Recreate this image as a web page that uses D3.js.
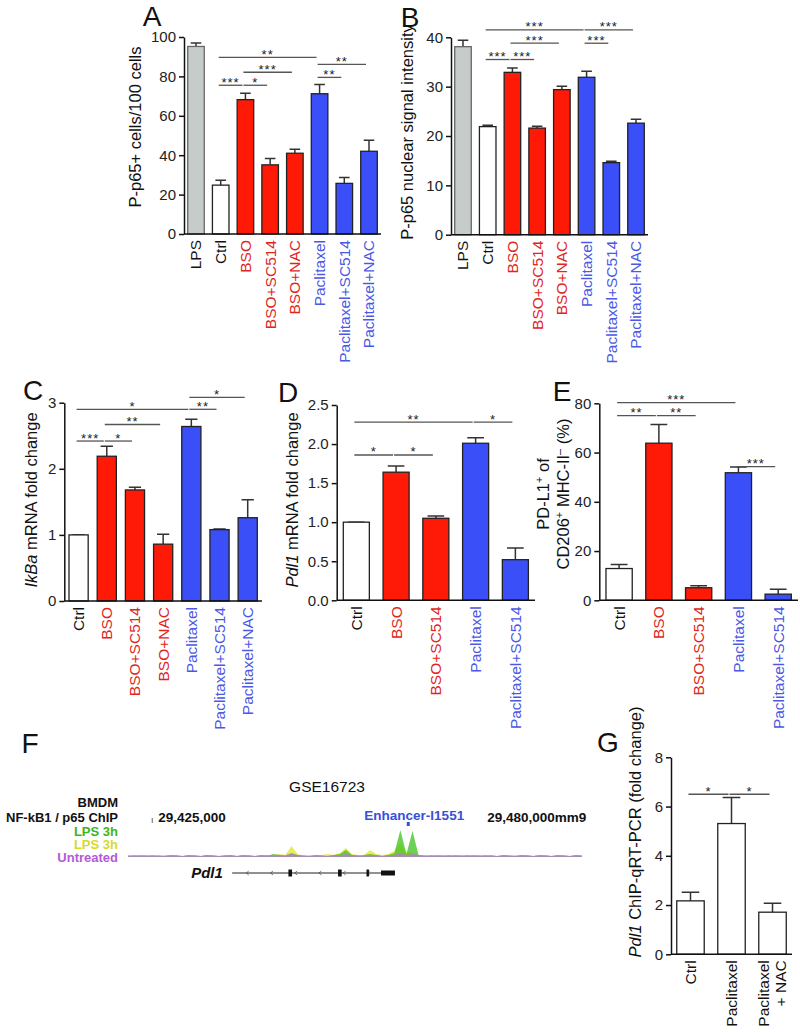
<!DOCTYPE html>
<html lang="en">
<head>
<meta charset="UTF-8">
<title>p65 / Pdl1 figure</title>
<script src="https://d3js.org/d3.v7.min.js"></script>
<style>
  body { margin: 0; background: #fff; }
  text { font-family: Arial, "Liberation Sans", sans-serif; }
</style>
</head>
<body>
<script>
// ---------- data ----------
var catsAB = ["LPS", "Ctrl", "BSO", "BSO+SC514", "BSO+NAC", "Paclitaxel", "Paclitaxel+SC514", "Paclitaxel+NAC"];
var valsA = [95.2, 24.8, 68.2, 35.1, 41.0, 71.2, 25.7, 42.0];
var semA  = [1.7, 2.5, 3.3, 3.2, 2.0, 4.7, 3.0, 5.6];
var ticksA = [0, 20, 40, 60, 80, 100];
// [from, to, height, stars]
var sigA = [["Ctrl", "Paclitaxel", 89.7, "**"], ["BSO", "BSO+NAC", 82.1, "***"], ["Ctrl", "BSO", 75.5, "***"],
            ["BSO", "BSO+SC514", 75.5, "*"], ["Paclitaxel", "Paclitaxel+NAC", 86.1, "**"], ["Paclitaxel", "Paclitaxel+SC514", 79.5, "**"]];

var valsB = [38.1, 21.9, 32.9, 21.6, 29.4, 31.9, 14.6, 22.6];
var semB  = [1.3, 0.3, 0.9, 0.4, 0.7, 1.2, 0.3, 0.8];
var ticksB = [0, 10, 20, 30, 40];
var sigB = [["Ctrl", "Paclitaxel", 41.5, "***"], ["BSO", "BSO+NAC", 38.8, "***"], ["Ctrl", "BSO", 35.5, "***"],
            ["BSO", "BSO+SC514", 35.5, "***"], ["Paclitaxel", "Paclitaxel+NAC", 41.5, "***"], ["Paclitaxel", "Paclitaxel+SC514", 38.8, "***"]];

var catsC = ["Ctrl", "BSO", "BSO+SC514", "BSO+NAC", "Paclitaxel", "Paclitaxel+SC514", "Paclitaxel+NAC"];
var valsC = [1.0, 2.19, 1.68, 0.86, 2.64, 1.08, 1.26];
var semC  = [0, 0.15, 0.04, 0.15, 0.11, 0.01, 0.27];
var ticksC = [0, 1, 2, 3];
var sigC = [["Ctrl", "Paclitaxel", 2.90, "*"], ["BSO", "BSO+NAC", 2.67, "**"], ["Ctrl", "BSO", 2.42, "***"],
            ["BSO", "BSO+SC514", 2.42, "*"], ["Paclitaxel", "Paclitaxel+SC514", 2.90, "**"], ["Paclitaxel", "Paclitaxel+NAC", 3.08, "*"]];

var catsDE = ["Ctrl", "BSO", "BSO+SC514", "Paclitaxel", "Paclitaxel+SC514"];
var valsD = [1.0, 1.64, 1.05, 2.01, 0.52];
var semD  = [0, 0.08, 0.03, 0.07, 0.15];
var ticksD = [0, 0.5, 1.0, 1.5, 2.0, 2.5];
var sigD = [["Ctrl", "Paclitaxel", 2.28, "**"], ["Paclitaxel", "Paclitaxel+SC514", 2.28, "*"],
            ["Ctrl", "BSO", 1.86, "*"], ["BSO", "BSO+SC514", 1.86, "*"]];

var valsE = [12.9, 63.8, 5.1, 51.8, 2.5];
var semE  = [1.6, 7.6, 0.8, 2.3, 2.0];
var ticksE = [0, 20, 40, 60, 80];
var sigE = [["Ctrl", "Paclitaxel", 80.3, "***"], ["Ctrl", "BSO", 75, "**"], ["BSO", "BSO+SC514", 75, "**"],
            ["Paclitaxel", "Paclitaxel+SC514", 54.3, "***"]];

var catsG = ["Ctrl", "Paclitaxel", "Paclitaxel\n+ NAC"];
var valsG = [2.17, 5.31, 1.71];
var semG  = [0.35, 1.06, 0.36];
var ticksG = [0, 2, 4, 6, 8];
var sigG = [["Ctrl", "Paclitaxel", 6.5, "*"], ["Paclitaxel", "Paclitaxel\n+ NAC", 6.5, "*"]];

// panel F: genome browser signal, 1 kb bins from 29,420,500
var trackStart = 29420500, binSize = 1000;
var greenTrack = [1,2,1,1,2,1,1,2,1,1, 2,1,1,2,1,1,1,2,1,2, 1,1,2,1,3,2,1,4,2,1, 1,2,1,1,2,3,7,2,1,2,
                  3,2,1,2,4,27,3,26,2,1, 2,1,1,2,1,1,2,1,1,2, 1,1,2,1,1,2,1,1,2,1, 1,2,1,1,2,1];
var yellowTrack = [1,1,2,1,1,1,2,1,2,1, 1,2,1,1,2,1,2,1,1,1, 2,1,1,2,2,3,2,11,3,1, 2,1,2,3,2,4,9,3,2,2,
                   7,3,2,3,6,14,5,4,2,1, 1,2,1,1,2,1,1,2,1,1, 2,1,1,1,2,1,2,1,1,2, 1,1,2,1,1,1];
var purpleTrack = [2,1,2,2,1,2,1,2,2,1, 2,2,1,2,2,1,2,2,1,2, 2,1,2,2,1,2,2,3,2,2, 1,2,2,1,2,2,3,2,2,1,
                   2,2,1,2,2,4,2,3,2,2, 1,2,2,1,2,2,1,2,2,1, 2,1,2,2,1,2,2,1,2,2, 1,2,2,1,2,2];
var geneStart = 29438200, geneEnd = 29465100;
var geneExons = [[29447500, 29448100, 1], [29455700, 29456300, 1], [29460400, 29460800, 1], [29462800, 29465100, 2]];
var enhancerPos = 29467300;

// ---------- drawing ----------
var RED = "#fe1a06", BLUE = "#3a4ff8", GRAY = "#c5ccc9";
var RED_T = "#e0251c", BLUE_T = "#4a58e6";

var svg = d3.select("body").append("svg").attr("width", 800).attr("height", 1032);

function fillFor(c, plain) {
  if (plain || c == "Ctrl") return "#fff";
  if (c == "LPS") return GRAY;
  return c.indexOf("BSO") == 0 ? RED : BLUE;
}
function textFor(c, plain) {
  if (plain) return "#111";
  if (c.indexOf("BSO") == 0) return RED_T;
  if (c.indexOf("Paclitaxel") == 0) return BLUE_T;
  return "#111";
}

function barPanel(p) {
  var g = svg.append("g");
  var x = d3.scaleBand().domain(p.cats).range([p.left, p.right]).paddingInner(p.pi).paddingOuter(p.po);
  var y = d3.scaleLinear().domain([p.ticks[0], p.ticks[p.ticks.length - 1]]).range([p.bottom, p.top]);
  var bw = x.bandwidth();

  // error whiskers (upper only)
  g.selectAll(".err").data(p.cats).join("path")
    .attr("d", function (d, i) {
      var cx = x(d) + bw / 2, t = y(p.vals[i] + p.sem[i]), c = bw * 0.32;
      return "M" + cx + "," + y(p.vals[i]) + "V" + t + "M" + (cx - c) + "," + t + "H" + (cx + c);
    })
    .attr("stroke", "#333").attr("stroke-width", 1.5).attr("fill", "none");

  g.selectAll(".bar").data(p.cats).join("rect")
    .attr("x", function (d) { return x(d); })
    .attr("y", function (d, i) { return y(p.vals[i]); })
    .attr("width", bw)
    .attr("height", function (d, i) { return y(0) - y(p.vals[i]); })
    .attr("fill", function (d) { return fillFor(d, p.plain); })
    .attr("stroke", function (d) { return d == "LPS" ? "#666" : "#222"; })
    .attr("stroke-width", 1.3);

  var ax = g.append("g").attr("transform", "translate(" + p.left + ",0)")
    .call(d3.axisLeft(y).tickValues(p.ticks).tickSize(5).tickSizeOuter(0).tickPadding(3)
      .tickFormat(p.fmt || d3.format("d")));
  ax.select(".domain").attr("stroke", "#111").attr("stroke-width", 1.5);
  ax.selectAll(".tick line").attr("stroke", "#111").attr("stroke-width", 1.5);
  ax.selectAll(".tick text").attr("font-size", 15).attr("fill", "#222")
    .attr("font-family", "Arial, 'Liberation Sans', sans-serif");

  g.append("line").attr("x1", p.left).attr("x2", p.right).attr("y1", y(0)).attr("y2", y(0))
    .attr("stroke", "#111").attr("stroke-width", 1.5);

  // rotated category labels
  p.cats.forEach(function (c) {
    var lines = c.split("\n");
    lines.forEach(function (ln, k) {
      var cx = x(c) + bw / 2 + (lines.length > 1 ? (k - 0.5) * 17 : 0);
      g.append("text")
        .attr("transform", "translate(" + cx + "," + (y(0) + 6) + ") rotate(-90)")
        .attr("text-anchor", "end").attr("dy", "0.35em")
        .attr("font-size", 15.5).attr("fill", textFor(c, p.plain)).text(ln);
    });
  });

  // significance brackets
  p.sig.forEach(function (s) {
    var x1 = x(s[0]) + bw / 2 - 2, x2 = x(s[1]) + bw / 2 - 3, ly = y(s[2]);
    g.append("line").attr("x1", x1).attr("x2", x2).attr("y1", ly).attr("y2", ly)
      .attr("stroke", "#555").attr("stroke-width", 1.3);
    g.append("text").attr("x", (x1 + x2) / 2).attr("y", ly + 1.5).attr("text-anchor", "middle")
      .attr("font-size", 13).attr("letter-spacing", 1).attr("fill", "#222").text(s[3]);
  });

  // y label (lines of [text, style] pieces)
  p.ylab.forEach(function (line, k) {
    var t = g.append("text")
      .attr("transform", "translate(" + p.ylabX[k] + "," + p.ylabY + ") rotate(-90)")
      .attr("text-anchor", "middle").attr("font-size", 16.5).attr("fill", "#111");
    line.forEach(function (piece) {
      var ts = t.append("tspan").text(piece[0]);
      if (piece[1] == "i") ts.attr("font-style", "italic");
      if (piece[1] == "sup") ts.attr("baseline-shift", "super").attr("font-size", 11);
    });
  });

  svg.append("text").attr("x", p.letter[0]).attr("y", p.letter[1]).attr("text-anchor", "middle")
    .attr("font-size", 28).attr("fill", "#111").text(p.name);
}

barPanel({ name: "A", letter: [152, 26], cats: catsAB, vals: valsA, sem: semA, ticks: ticksA, sig: sigA,
  left: 184, right: 381, top: 37, bottom: 234, pi: 0.33, po: 0.15,
  ylab: [[["P-p65+ cells/100 cells"]]], ylabX: [141], ylabY: 127 });

barPanel({ name: "B", letter: [410, 27], cats: catsAB, vals: valsB, sem: semB, ticks: ticksB, sig: sigB,
  left: 451, right: 648, top: 37.3, bottom: 234.7, pi: 0.33, po: 0.15,
  ylab: [[["P-p65 nuclear signal intensity"]]], ylabX: [413], ylabY: 132 });

barPanel({ name: "C", letter: [33, 400], cats: catsC, vals: valsC, sem: semC, ticks: ticksC, sig: sigC,
  left: 64.3, right: 262, top: 402.7, bottom: 601, pi: 0.32, po: 0.167,
  ylab: [[["IkBa", "i"], [" mRNA fold change"]]], ylabX: [37], ylabY: 500 });

barPanel({ name: "D", letter: [288, 402], cats: catsDE, vals: valsD, sem: semD, ticks: ticksD, sig: sigD,
  left: 336.7, right: 535, top: 405, bottom: 600.3, pi: 0.345, po: 0.166, fmt: d3.format(".1f"),
  ylab: [[["Pdl1", "i"], [" mRNA fold change"]]], ylabX: [298], ylabY: 500 });

barPanel({ name: "E", letter: [562, 401], cats: catsDE, vals: valsE, sem: semE, ticks: ticksE, sig: sigE,
  left: 599.3, right: 798, top: 403.3, bottom: 600.3, pi: 0.34, po: 0.168,
  ylab: [[["PD-L1"], ["+", "sup"], [" of"]], [["CD206"], ["+", "sup"], [" MHC-II"], ["\u2013", "sup"], [" (%)"]]],
  ylabX: [549, 569], ylabY: 494 });

barPanel({ name: "G", letter: [608, 752], cats: catsG, vals: valsG, sem: semG, ticks: ticksG, sig: sigG,
  left: 671, right: 792, top: 757.3, bottom: 954.3, pi: 0.33, po: 0.14, plain: true,
  ylab: [[["Pdl1", "i"], [" ChIP-qRT-PCR (fold change)"]]], ylabX: [641], ylabY: 832 });

// ---------- panel F ----------
var fg = svg.append("g");
var gx = d3.scaleLinear().domain([trackStart, trackStart + binSize * greenTrack.length]).range([125, 585]);
var hy = d3.scaleLinear().domain([0, 30]).range([857, 827]);
var fmt = d3.format(",");

fg.append("text").attr("x", 30).attr("y", 753).attr("text-anchor", "middle").attr("font-size", 28).attr("fill", "#111").text("F");
fg.append("text").attr("x", 327).attr("y", 792).attr("text-anchor", "middle").attr("font-size", 15.5).attr("fill", "#111").text("GSE16723");

var trackLabels = [["BMDM", "#111", 807], ["NF-kB1 / p65 ChIP", "#111", 822], ["LPS 3h", "#3db520", 836],
                   ["LPS 3h", "#d4dc2a", 849], ["Untreated", "#b35ad9", 862]];
trackLabels.forEach(function (t) {
  fg.append("text").attr("x", 118).attr("y", t[2]).attr("text-anchor", "end").attr("font-size", 13)
    .attr("font-weight", "bold").attr("fill", t[1]).text(t[0]);
});

fg.append("line").attr("x1", gx(29425000)).attr("x2", gx(29425000)).attr("y1", 818).attr("y2", 823).attr("stroke", "#666");
fg.append("text").attr("x", gx(29425000) + 6).attr("y", 822).attr("font-size", 13.5).attr("font-weight", "bold")
  .attr("fill", "#111").text(fmt(29425000));
fg.append("text").attr("x", gx(29480000) + 2).attr("y", 822).attr("font-size", 13.5).attr("font-weight", "bold")
  .attr("fill", "#111").text(fmt(29480000) + "mm9");
fg.append("text").attr("x", gx(enhancerPos) + 6).attr("y", 820).attr("text-anchor", "middle").attr("font-size", 13.5)
  .attr("font-weight", "bold").attr("fill", "#3a4fd8").text("Enhancer-I1551");
fg.append("rect").attr("x", gx(enhancerPos) - 1.5).attr("y", 822).attr("width", 3).attr("height", 4).attr("fill", "#3a4fd8");

function track(vals, color, op) {
  var area = d3.area()
    .x(function (d, i) { return gx(trackStart + (i + 0.5) * binSize); })
    .y0(hy(0)).y1(function (d) { return hy(d); });
  fg.append("path").datum(vals).attr("d", area).attr("fill", color).attr("fill-opacity", op);
}
track(yellowTrack, "#e3e63a", 0.8);
track(greenTrack, "#3cc21c", 0.75);
track(purpleTrack, "#c070e8", 0.7);

// gene model
fg.append("text").attr("x", 207).attr("y", 878).attr("text-anchor", "middle").attr("font-size", 15)
  .attr("font-weight", "bold").attr("font-style", "italic").attr("fill", "#111").text("Pdl1");
fg.append("line").attr("x1", gx(geneStart)).attr("x2", gx(geneEnd)).attr("y1", 873).attr("y2", 873)
  .attr("stroke", "#222").attr("stroke-width", 1);
d3.range(geneStart + 2500, geneEnd - 2500, 4000).forEach(function (p) {
  var cx = gx(p);
  fg.append("path").attr("d", "M" + (cx + 1.5) + ",871L" + (cx - 1) + ",873L" + (cx + 1.5) + ",875")
    .attr("stroke", "#444").attr("stroke-width", 0.7).attr("fill", "none");
});
geneExons.forEach(function (e) {
  var h = e[2] == 2 ? 5 : 7;
  fg.append("rect").attr("x", gx(e[0])).attr("y", 873 - h / 2).attr("width", gx(e[1]) - gx(e[0]))
    .attr("height", h).attr("fill", "#111");
});
</script>
</body>
</html>
